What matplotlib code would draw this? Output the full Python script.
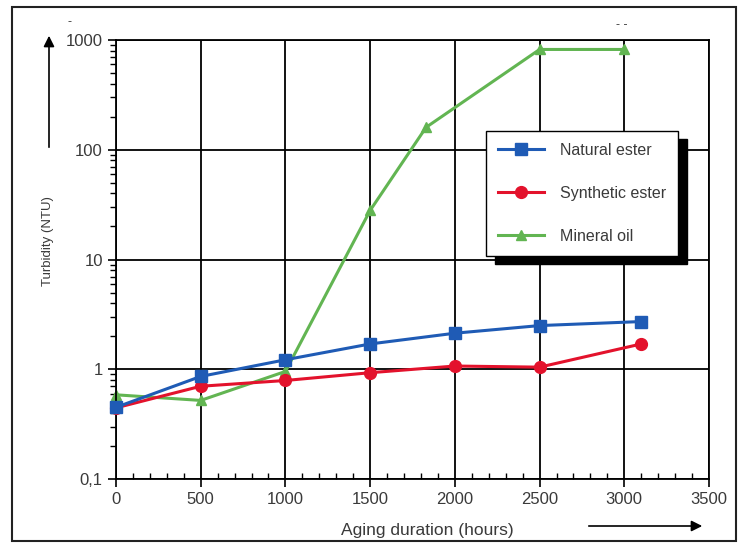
import matplotlib.pyplot as plt
from matplotlib.patches import Rectangle
from matplotlib.ticker import FixedLocator, FixedFormatter, MultipleLocator, LogLocator, NullFormatter

plt.rcParams['font.family'] = ['Liberation Sans', 'DejaVu Sans']

# aging duration (hours) and turbidity (NTU)
natural_x = [0, 500, 1000, 1500, 2000, 2500, 3100]
natural_y = [0.45, 0.86, 1.22, 1.70, 2.13, 2.50, 2.72]

synthetic_x = [0, 500, 1000, 1500, 2000, 2500, 3100]
synthetic_y = [0.445, 0.70, 0.79, 0.93, 1.07, 1.045, 1.70]

mineral_x = [0, 500, 1000, 1500, 1830, 2500, 3000]
mineral_y = [0.585, 0.52, 0.955, 28, 160, 820, 820]

ytick_vals = [0.1, 1, 10, 100, 1000]
ytick_labels = ['0,1', '1', '10', '100', '1000']

txt = '#3a3a3a'

fig = plt.figure(figsize=(7.38, 5.44), dpi=100)
ax = fig.add_axes([116/738, 65/544, 593/738, 439/544])

ax.plot(natural_x, natural_y, color='#1f5bb5', lw=2.2, marker='s', ms=8,
        label='Natural ester', zorder=4, clip_on=False)
ax.plot(synthetic_x, synthetic_y, color='#e3122c', lw=2.2, marker='o', ms=8.5,
        label='Synthetic ester', zorder=3, clip_on=False)
ax.plot(mineral_x, mineral_y, color='#62b552', lw=2.2, marker='^', ms=7,
        label='Mineral oil', zorder=2, clip_on=False)

ax.set_yscale('log')
ax.set_ylim(0.1, 1000)
ax.set_xlim(0, 3500)
ax.yaxis.set_major_locator(FixedLocator(ytick_vals))
ax.yaxis.set_major_formatter(FixedFormatter(ytick_labels))
ax.yaxis.set_minor_locator(LogLocator(base=10, subs=range(2, 10)))
ax.yaxis.set_minor_formatter(NullFormatter())
ax.xaxis.set_major_locator(MultipleLocator(500))
ax.xaxis.set_minor_locator(MultipleLocator(100))

ax.grid(True, which='major', color='black', lw=1.3)
for s in ax.spines.values():
    s.set_color('black')
    s.set_linewidth(1.3)

ax.tick_params(axis='both', which='major', labelsize=12, labelcolor=txt,
               direction='out', length=6, width=1.2)
ax.tick_params(axis='y', which='minor', direction='out', length=4, width=1)
ax.tick_params(axis='x', which='minor', direction='in', length=4, width=1)

ax.set_ylabel('Turbidity (NTU)', fontsize=9.5, color=txt)
ax.yaxis.set_label_coords(54/738, 303/544, transform=fig.transFigure)
ax.set_xlabel('Aging duration (hours)', fontsize=12.5, color=txt)
ax.xaxis.set_label_coords(427/738, 21/544, transform=fig.transFigure)

leg = ax.legend(loc='upper left', bbox_to_anchor=(0.624, 0.793), fontsize=11.5,
                frameon=True, fancybox=False, edgecolor='black', framealpha=1,
                labelspacing=1.75, handlelength=2.9, handletextpad=1.0,
                borderpad=0.75, borderaxespad=0,
                shadow={'color': 'black', 'alpha': 1, 'ox': 6.5, 'oy': -6})
leg.get_frame().set_linewidth(1.0)
for t in leg.get_texts():
    t.set_color(txt)

# axis arrows
ax.annotate('', xy=(49, 511), xytext=(49, 394), xycoords='figure pixels',
            textcoords='figure pixels',
            arrowprops=dict(arrowstyle='-|>', color='black', lw=1.2,
                            mutation_scale=16))
ax.annotate('', xy=(705, 18), xytext=(586, 18), xycoords='figure pixels',
            textcoords='figure pixels',
            arrowprops=dict(arrowstyle='-|>', color='black', lw=1.2,
                            mutation_scale=16))

fig.text(70/738, 1 - 22/544, '-', fontsize=9, color=txt, ha='center', va='center')
fig.text(622/738, 1 - 25/544, '- -', fontsize=9, color=txt, ha='center', va='center')

# outer frame
fig.patches.append(Rectangle((12/738, 3/544), 724/738, 534/544, transform=fig.transFigure,
                             fill=False, edgecolor='#222222', lw=1.5))

fig.savefig('out.png', dpi=100)
